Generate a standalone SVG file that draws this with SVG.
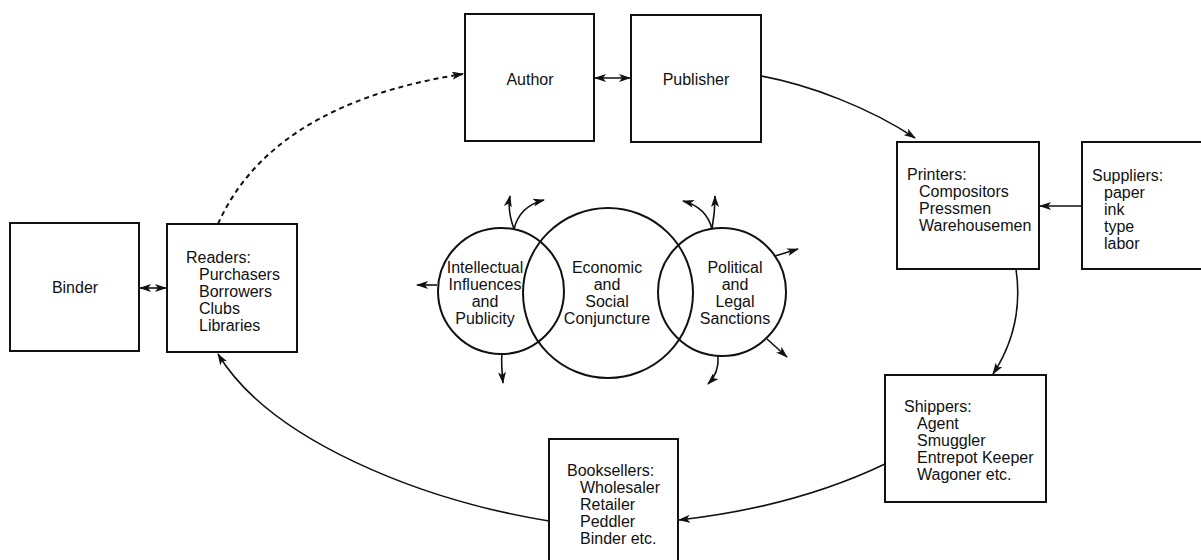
<svg xmlns="http://www.w3.org/2000/svg" width="1201" height="560" viewBox="0 0 1201 560">
<defs>
<style>
.box{fill:#fff;stroke:#111;stroke-width:2}
.t{font-family:"Liberation Sans",Arial,sans-serif;font-size:16px;fill:#111}
.c{text-anchor:middle}
.ln{fill:none;stroke:#111;stroke-width:1.6}
.dash{fill:none;stroke:#111;stroke-width:2;stroke-dasharray:5,4}
.circ{fill:none;stroke:#111;stroke-width:2}
</style>
<marker id="ah" viewBox="0 0 12 8" refX="11" refY="4" markerWidth="12" markerHeight="8" markerUnits="userSpaceOnUse" orient="auto-start-reverse">
<path d="M0,0 L12,4 L0,8 L3,4 z" fill="#111"/>
</marker>
</defs>
<rect width="1201" height="560" fill="#fff"/>

<g id="author"><rect class="box" x="465" y="14" width="129" height="127"/><text class="t c" x="530" y="85">Author</text></g>
<g id="publisher"><rect class="box" x="631" y="15" width="130" height="127"/><text class="t c" x="696" y="85">Publisher</text></g>
<g id="printers"><rect class="box" x="897" y="142" width="142" height="127"/>
<text class="t" x="907" y="180">Printers:</text>
<text class="t" x="919" y="197">Compositors</text>
<text class="t" x="919" y="214">Pressmen</text>
<text class="t" x="919" y="231">Warehousemen</text></g>
<g id="suppliers"><rect class="box" x="1082" y="142" width="125" height="127"/>
<text class="t" x="1092" y="181">Suppliers:</text>
<text class="t" x="1104" y="198">paper</text>
<text class="t" x="1104" y="215">ink</text>
<text class="t" x="1104" y="232">type</text>
<text class="t" x="1104" y="249">labor</text></g>
<g id="shippers"><rect class="box" x="885" y="375" width="161" height="127"/>
<text class="t" x="904" y="412">Shippers:</text>
<text class="t" x="917" y="429">Agent</text>
<text class="t" x="917" y="446">Smuggler</text>
<text class="t" x="917" y="463">Entrepot Keeper</text>
<text class="t" x="917" y="480">Wagoner etc.</text></g>
<g id="booksellers"><rect class="box" x="549" y="439" width="129" height="127"/>
<text class="t" x="567" y="476">Booksellers:</text>
<text class="t" x="580" y="493">Wholesaler</text>
<text class="t" x="580" y="510">Retailer</text>
<text class="t" x="580" y="527">Peddler</text>
<text class="t" x="580" y="544">Binder etc.</text></g>
<g id="readers"><rect class="box" x="167" y="224" width="130" height="128"/>
<text class="t" x="186" y="263">Readers:</text>
<text class="t" x="199" y="280">Purchasers</text>
<text class="t" x="199" y="297">Borrowers</text>
<text class="t" x="199" y="314">Clubs</text>
<text class="t" x="199" y="331">Libraries</text></g>
<g id="binder"><rect class="box" x="10" y="223" width="129" height="128"/><text class="t c" x="75" y="293">Binder</text></g>

<g id="conjuncture">
<circle class="circ" cx="501" cy="291" r="63"/>
<circle class="circ" cx="608" cy="293" r="85"/>
<circle class="circ" cx="722" cy="292" r="64"/>
<text class="t c" x="485" y="273">Intellectual</text>
<text class="t c" x="485" y="290">Influences</text>
<text class="t c" x="485" y="307">and</text>
<text class="t c" x="485" y="324">Publicity</text>
<text class="t c" x="607" y="273">Economic</text>
<text class="t c" x="607" y="290">and</text>
<text class="t c" x="607" y="307">Social</text>
<text class="t c" x="607" y="324">Conjuncture</text>
<text class="t c" x="735" y="273">Political</text>
<text class="t c" x="735" y="290">and</text>
<text class="t c" x="735" y="307">Legal</text>
<text class="t c" x="735" y="324">Sanctions</text>
</g>

<g id="connectors">
<line class="ln" x1="595" y1="78" x2="630" y2="78" marker-start="url(#ah)" marker-end="url(#ah)"/>
<line class="ln" x1="140" y1="288" x2="166" y2="288" marker-start="url(#ah)" marker-end="url(#ah)"/>
<line class="ln" x1="1082" y1="206" x2="1040" y2="206" marker-end="url(#ah)"/>
<path class="ln" d="M761,76 C810,85 870,108 915,138" marker-end="url(#ah)"/>
<path class="ln" d="M1016,269 C1022,310 1012,345 993,374" marker-end="url(#ah)"/>
<path class="ln" d="M885,464 C820,495 750,512 679,520" marker-end="url(#ah)"/>
<path class="ln" d="M549,521 C420,500 270,440 218,354" marker-end="url(#ah)"/>
<path class="dash" d="M218,224 C260,130 360,90 463,74" marker-end="url(#ah)"/>
<!-- small arrows around circles -->
<path class="ln" d="M514,229 C510,218 508,206 510,196" marker-end="url(#ah)"/>
<path class="ln" d="M514,229 C518,213 528,204 544,200" marker-end="url(#ah)"/>
<line class="ln" x1="437" y1="285" x2="417" y2="285" marker-end="url(#ah)"/>
<path class="ln" d="M502,353 C501,363 502,373 503,383" marker-end="url(#ah)"/>
<path class="ln" d="M712,229 C714,218 715,206 715,196" marker-end="url(#ah)"/>
<path class="ln" d="M712,229 C708,213 698,205 683,201" marker-end="url(#ah)"/>
<line class="ln" x1="775" y1="256" x2="798" y2="249" marker-end="url(#ah)"/>
<line class="ln" x1="767" y1="339" x2="787" y2="357" marker-end="url(#ah)"/>
<path class="ln" d="M718,356 C719,368 715,377 708,384" marker-end="url(#ah)"/>
</g>
</svg>
